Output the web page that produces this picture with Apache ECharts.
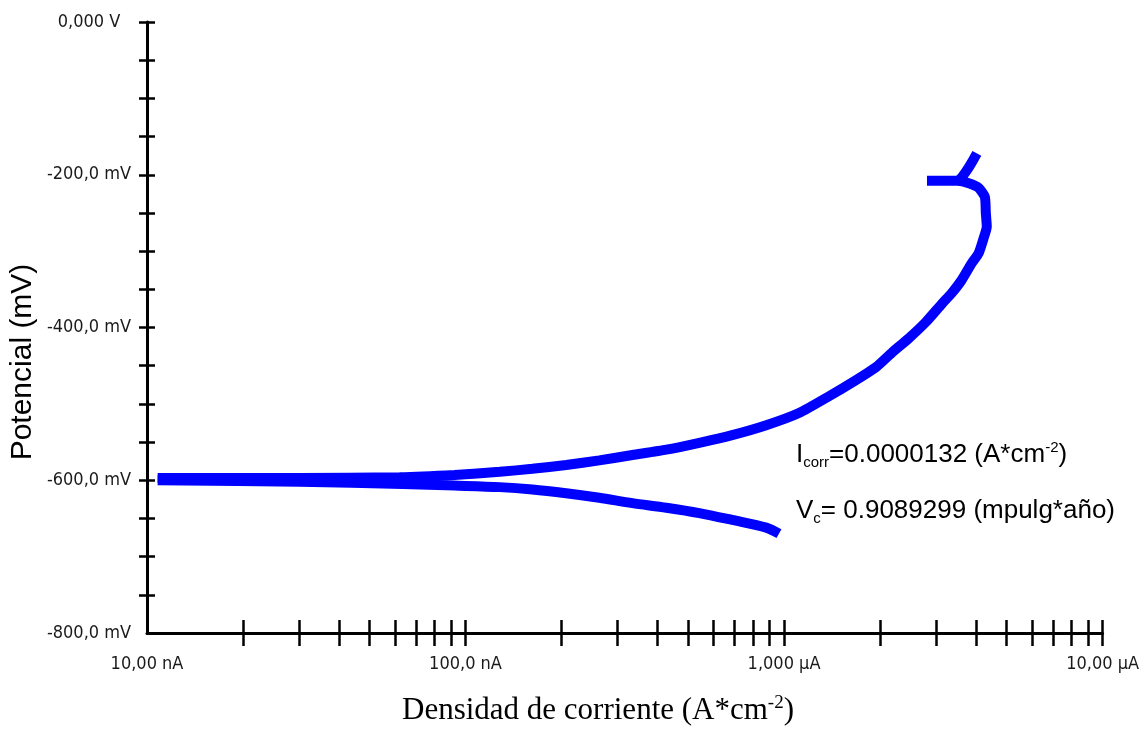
<!DOCTYPE html>
<html>
<head>
<meta charset="utf-8">
<title>Curva de polarización</title>
<script src="https://cdn.jsdelivr.net/npm/echarts@6/dist/echarts.min.js"></script>
<style>
  html, body { margin: 0; padding: 0; background: #fff; }
  #chart { width: 1142px; height: 751px; }
</style>
</head>
<body>
<div id="chart"></div>
<script>
// Cathodic branch: from the start of the scan up to the corrosion potential
const cathodicCurrentA = [9.64e-7, 8.79e-7, 6.87e-7, 5.42e-7, 4.27e-7, 3.34e-7, 2.63e-7, 2.07e-7, 1.62e-7, 1.28e-7, 9.24e-8, 6.35e-8, 3.02e-8, 1.08e-8];
const cathodicPotentialMV = [-670, -662, -652, -643, -636, -630, -623, -617, -612, -609, -607, -605, -602, -600];

// Anodic branch: from the corrosion potential to the end of the scan
const anodicCurrentA = [1.08e-8, 3.02e-8, 6.21e-8, 9.24e-8, 1.28e-7, 1.62e-7, 2.07e-7, 2.63e-7, 3.34e-7, 4.27e-7, 5.42e-7, 6.87e-7, 8.79e-7, 1.114e-6, 1.384e-6, 1.68e-6, 1.942e-6, 2.18e-6, 2.466e-6, 2.786e-6, 3.13e-6, 3.36e-6, 3.61e-6, 3.88e-6, 4.08e-6, 4.24e-6, 4.33e-6, 4.30e-6, 4.27e-6, 4.08e-6, 3.80e-6, 3.49e-6, 2.81e-6, 3.49e-6, 4.03e-6];
const anodicPotentialMV = [-597, -597, -596, -593, -589, -585, -580, -574, -567, -560, -551, -541, -528, -512, -490, -469, -452, -433, -414, -393, -369, -355, -338, -316, -303, -282, -268, -250, -229, -217, -211, -208, -208, -208, -172];

// Axis ticks and labels
const xTickValues = [2e-8, 3e-8, 4e-8, 5e-8, 6e-8, 7e-8, 8e-8, 9e-8, 1e-7,
                     2e-7, 3e-7, 4e-7, 5e-7, 6e-7, 7e-7, 8e-7, 9e-7, 1e-6,
                     2e-6, 3e-6, 4e-6, 5e-6, 6e-6, 7e-6, 8e-6, 9e-6, 1e-5];
const xLabelValues = [1e-8, 1e-7, 1e-6, 1e-5];
const xLabelTexts = ['10,00 nA', '100,0 nA', '1,000 µA', '10,00 µA'];
const yTickValues = [-750, -700, -650, -600, -550, -500, -450, -400, -350, -300, -250, -200, -150, -100, -50, 0];
const yLabelValues = [-800, -600, -400, -200, 0];
const yLabelTexts = ['-800,0 mV', '-600,0 mV', '-400,0 mV', '-200,0 mV', '0,000 V'];

const tickFont = "'DejaVu Sans', sans-serif";
const pairs = (xs, ys) => xs.map((x, i) => [x, ys[i]]);

const xLabelFormatter = v => {
  const i = xLabelValues.findIndex(t => Math.abs(Math.log10(t) - Math.log10(v)) < 1e-6);
  return i >= 0 ? xLabelTexts[i] : '';
};
const yLabelFormatter = v => {
  const i = yLabelValues.indexOf(Math.round(v));
  return i >= 0 ? yLabelTexts[i] : '';
};

const axisLineStyle = { color: '#000', width: 3 };
const tickLineStyle = { color: '#000', width: 2.5 };
const plotHeight = 751 - 22 - 118;

const chart = echarts.init(document.getElementById('chart'), null, { renderer: 'canvas' });

chart.setOption({
  animation: false,
  backgroundColor: '#ffffff',
  grid: { left: 147, right: 38, top: 22, bottom: 118, containLabel: false },
  xAxis: [
    {
      // main current axis: line, downward ticks and labels
      type: 'log', logBase: 10, min: 1e-8, max: 1e-5, position: 'bottom',
      axisLine: { show: true, onZero: false, lineStyle: axisLineStyle },
      axisTick: { show: true, length: 13, lineStyle: tickLineStyle, customValues: xTickValues },
      axisLabel: {
        customValues: xLabelValues, formatter: xLabelFormatter, margin: 22,
        fontFamily: tickFont, fontWeight: 'condensed', fontSize: 18, color: '#1a1a1a'
      },
      splitLine: { show: false }
    },
    {
      // twin axis moved down onto the bottom edge: upward half of each tick
      type: 'log', logBase: 10, min: 1e-8, max: 1e-5, position: 'top', offset: -plotHeight,
      axisLine: { show: false, onZero: false },
      axisTick: { show: true, inside: false, length: 13, lineStyle: tickLineStyle, customValues: xTickValues },
      axisLabel: { show: false },
      splitLine: { show: false }
    }
  ],
  yAxis: [
    {
      type: 'value', min: -800, max: 0, position: 'left',
      axisLine: { show: true, onZero: false, lineStyle: axisLineStyle },
      axisTick: { show: true, length: 8, lineStyle: tickLineStyle, customValues: yTickValues },
      axisLabel: {
        customValues: yLabelValues, formatter: yLabelFormatter, margin: 58, align: 'center',
        fontFamily: tickFont, fontWeight: 'condensed', fontSize: 18, color: '#1a1a1a'
      },
      splitLine: { show: false }
    },
    {
      type: 'value', min: -800, max: 0, position: 'left',
      axisLine: { show: false, onZero: false },
      axisTick: { show: true, inside: true, length: 8, lineStyle: tickLineStyle, customValues: yTickValues },
      axisLabel: { show: false },
      splitLine: { show: false }
    }
  ],
  series: [
    {
      name: 'Rama catódica', type: 'line', xAxisIndex: 0, yAxisIndex: 0,
      data: pairs(cathodicCurrentA, cathodicPotentialMV),
      showSymbol: false, smooth: 0.3,
      lineStyle: { color: '#0000ff', width: 10, cap: 'butt', join: 'bevel' }
    },
    {
      name: 'Rama anódica', type: 'line', xAxisIndex: 0, yAxisIndex: 0,
      data: pairs(anodicCurrentA, anodicPotentialMV),
      showSymbol: false, smooth: 0.2,
      lineStyle: { color: '#0000ff', width: 10, cap: 'butt', join: 'bevel' }
    }
  ],
  graphic: [
    {
      type: 'text', x: 23, y: 362, rotation: Math.PI / 2,
      style: {
        text: 'Potencial (mV)', fill: '#000',
        font: "30px 'Liberation Sans', Arial, sans-serif",
        align: 'center', verticalAlign: 'middle'
      }
    },
    {
      type: 'text', x: 598, y: 711,
      style: {
        text: '{n|Densidad de corriente (A*cm}{s|-2}{n|)}',
        align: 'center', verticalAlign: 'middle',
        rich: {
          n: { fontFamily: "'Liberation Serif', 'Times New Roman', serif", fontSize: 31, fill: '#000', lineHeight: 34 },
          s: { fontFamily: "'Liberation Serif', 'Times New Roman', serif", fontSize: 19, fill: '#000', verticalAlign: 'top', lineHeight: 19 }
        }
      }
    },
    {
      type: 'text', x: 796, y: 455,
      style: {
        text: '{n|I}{b|corr}{n|=0.0000132 (A*cm}{s|-2}{n|)}',
        align: 'left', verticalAlign: 'middle',
        rich: {
          n: { fontFamily: "'Liberation Sans', Arial, sans-serif", fontSize: 26, fill: '#000', lineHeight: 30 },
          b: { fontFamily: "'Liberation Sans', Arial, sans-serif", fontSize: 15, fill: '#000', verticalAlign: 'bottom', lineHeight: 15 },
          s: { fontFamily: "'Liberation Sans', Arial, sans-serif", fontSize: 15, fill: '#000', verticalAlign: 'top', lineHeight: 15 }
        }
      }
    },
    {
      type: 'text', x: 796, y: 511,
      style: {
        text: '{n|V}{b|c}{n|= 0.9089299 (mpulg*año)}',
        align: 'left', verticalAlign: 'middle',
        rich: {
          n: { fontFamily: "'Liberation Sans', Arial, sans-serif", fontSize: 26, fill: '#000', lineHeight: 30 },
          b: { fontFamily: "'Liberation Sans', Arial, sans-serif", fontSize: 15, fill: '#000', verticalAlign: 'bottom', lineHeight: 15 }
        }
      }
    }
  ]
});
</script>
</body>
</html>
